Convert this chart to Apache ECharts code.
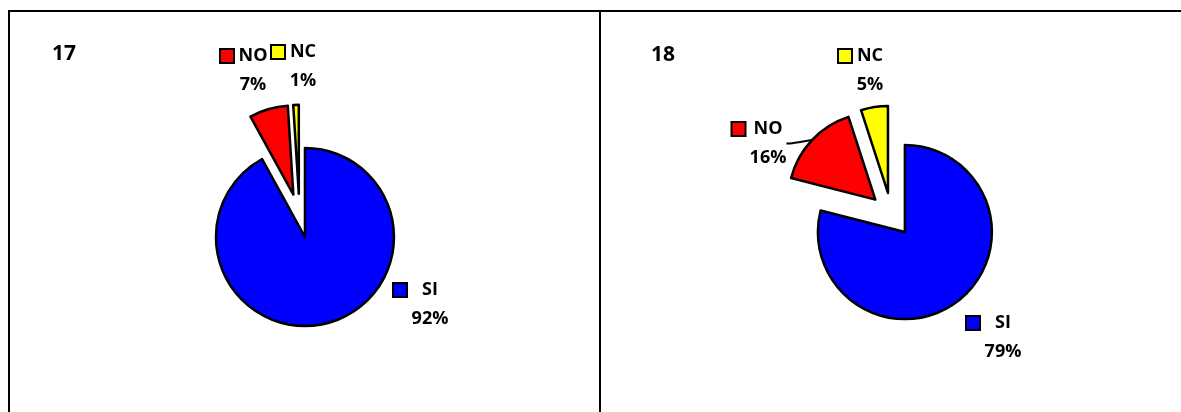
<!DOCTYPE html>
<html>
<head>
<meta charset="utf-8">
<script src="https://cdn.jsdelivr.net/npm/echarts@6/dist/echarts.min.js"></script>
<style>
  html, body { margin: 0; padding: 0; background: #fff; }
  #chart { width: 1181px; height: 412px; }
</style>
</head>
<body>
<div id="chart"></div>
<script>
// Answer categories, shared by both questions
const sliceNames = ['SI', 'NO', 'NC'];
// Question numbers shown in each panel
const panelTitles = ['17', '18'];
// Share of answers (%) per question
const values17 = [92, 7, 1];
const values18 = [79, 16, 5];
// Slices pulled out of each pie (all of them, giving the split-pie look)
const exploded = ['SI', 'NO', 'NC'];

const sliceColors = { SI: '#0000FF', NO: '#FF0000', NC: '#FFFF00' };
const FONT = '"Open Sans", Lato, sans-serif';
const KEY_W = 18;     // legend key + gap in front of the text column
const LINE_H = 29;

// Label placement: [centre x of the text column, centre y of first line, column width]
const labelSpots = {
  '17': { SI: [430, 290, 36], NO: [253, 56, 28], NC: [303, 52, 26] },
  '18': { SI: [1003, 323, 36], NO: [768, 129, 35], NC: [870, 56, 26] }
};
// Labels that get a leader line to their slice
const leaderLines = { '18': ['NO'] };

const pies = [
  { title: panelTitles[0], values: values17, center: [299.5, 215.7], radius: 89, offset: 22 },
  { title: panelTitles[1], values: values18, center: [891.4, 214.7], radius: 87, offset: 22 }
];

const textStyle = { fontFamily: FONT, fontWeight: 'bold', fontSize: 18, color: '#000', lineHeight: LINE_H };
const rich = {
  gap: { width: KEY_W - 12, height: 12, align: 'left' },
  sp: { width: KEY_W, height: 12, align: 'left' }
};
sliceNames.forEach(function (n) {
  rich['key' + n] = { width: 12, height: 12, align: 'left', backgroundColor: sliceColors[n], borderColor: '#000', borderWidth: 2 };
});
// text column styles, one per column width in use
Object.keys(labelSpots).forEach(function (t) {
  Object.keys(labelSpots[t]).forEach(function (n) {
    const w = labelSpots[t][n][2];
    rich['col' + w] = Object.assign({ width: w, align: 'center' }, textStyle);
  });
});

// Centre shift that pulls a slice out along its middle angle
function explodeShift(values, idx, dist) {
  const total = values.reduce(function (a, b) { return a + b; }, 0);
  let before = 0;
  for (let i = 0; i < idx; i++) before += values[i];
  const theta = (before + values[idx] / 2) / total * 2 * Math.PI; // clockwise from 12 o'clock
  return [Math.sin(theta) * dist, -Math.cos(theta) * dist];
}

const series = [];
pies.forEach(function (p) {
  const lines = leaderLines[p.title] || [];
  const spots = labelSpots[p.title];
  // one layer per slice, so every pulled-out slice can sit on its own centre
  sliceNames.forEach(function (shown, shownIdx) {
    const shift = exploded.indexOf(shown) >= 0 ? explodeShift(p.values, shownIdx, p.offset) : [0, 0];
    series.push({
      type: 'pie',
      center: [p.center[0] + shift[0], p.center[1] + shift[1]],
      radius: p.radius,
      startAngle: 90,
      clockwise: true,
      animation: false,
      silent: true,
      avoidLabelOverlap: false,
      emphasis: { disabled: true, scale: false },
      itemStyle: { borderColor: '#000', borderWidth: 2.5 },
      label: {
        show: true,
        position: 'outside',
        formatter: function (params) {
          const col = 'col' + spots[params.name][2];
          return '{key' + params.name + '|}{gap|}{' + col + '|' + params.name + '}\n{sp|}{' + col + '|' + Math.round(params.percent) + '%}';
        },
        rich: rich,
        lineHeight: LINE_H
      },
      labelLine: { show: false, smooth: 0.5, length: 6, length2: 6, lineStyle: { color: '#000', width: 2 } },
      labelLayout: function (params) {
        const spot = spots[sliceNames[params.dataIndex]];
        return {
          x: spot[0] - KEY_W - spot[2] / 2,
          y: spot[1] - LINE_H / 2,
          align: 'left',
          verticalAlign: 'top'
        };
      },
      data: sliceNames.map(function (n, i) {
        const visible = n === shown;
        const item = {
          name: n,
          value: p.values[i],
          itemStyle: visible
            ? { color: sliceColors[n] }
            : { color: 'rgba(0,0,0,0)', borderWidth: 0 },
          label: { show: visible }
        };
        if (visible && lines.indexOf(n) >= 0) item.labelLine = { show: true };
        return item;
      })
    });
  });
});

const chart = echarts.init(document.getElementById('chart'), null, { renderer: 'canvas' });
chart.setOption({
  backgroundColor: '#fff',
  animation: false,
  graphic: [
    // panel frame
    { type: 'line', shape: { x1: 8, y1: 11, x2: 1181, y2: 11 }, style: { stroke: '#000', lineWidth: 2 } },
    { type: 'line', shape: { x1: 9, y1: 10, x2: 9, y2: 412 }, style: { stroke: '#000', lineWidth: 2 } },
    { type: 'line', shape: { x1: 600, y1: 10, x2: 600, y2: 412 }, style: { stroke: '#000', lineWidth: 2 } },
    // question numbers
    { type: 'text', x: 52, y: 54, style: { text: panelTitles[0], font: 'bold 21px ' + FONT, fill: '#000', verticalAlign: 'middle' } },
    { type: 'text', x: 651, y: 55, style: { text: panelTitles[1], font: 'bold 21px ' + FONT, fill: '#000', verticalAlign: 'middle' } }
  ],
  series: series
});
</script>
</body>
</html>
